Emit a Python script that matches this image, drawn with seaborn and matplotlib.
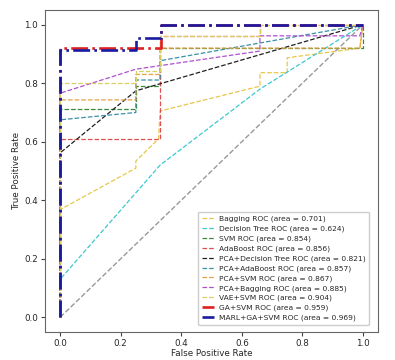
import numpy as np
import pandas as pd
import matplotlib
matplotlib.use("Agg")
import matplotlib.pyplot as plt
import seaborn as sns

# ROC curves
names = ["Bagging", "Decision Tree", "SVM", "AdaBoost", "PCA+Decision Tree",
         "PCA+AdaBoost", "PCA+SVM", "PCA+Bagging", "VAE+SVM", "GA+SVM", "MARL+GA+SVM"]
areas = [0.701, 0.624, 0.854, 0.856, 0.821, 0.857, 0.867, 0.885, 0.904, 0.959, 0.969]

fpr_bagging = [0, 0, 0.25, 0.25, 0.325, 0.33, 0.66, 0.66, 0.75, 0.75, 0.99, 1]
tpr_bagging = [0, 0.368, 0.51, 0.534, 0.61, 0.705, 0.79, 0.836, 0.836, 0.887, 0.92, 1]

fpr_dtree = [0, 0, 0.33, 0.66, 1]
tpr_dtree = [0, 0.13, 0.52, 0.78, 1]

fpr_svm = [0, 0, 0.25, 0.25, 0.33, 0.33, 1, 1]
tpr_svm = [0, 0.713, 0.713, 0.79, 0.79, 0.92, 0.92, 1]

fpr_ada = [0, 0, 0.33, 0.33, 0.66, 0.66, 1]
tpr_ada = [0, 0.61, 0.61, 0.962, 0.962, 1, 1]

fpr_pca_dt = [0, 0, 0.25, 1]
tpr_pca_dt = [0, 0.562, 0.774, 1]

fpr_pca_ada = [0, 0, 0.25, 0.25, 0.33, 0.33, 1]
tpr_pca_ada = [0, 0.675, 0.70, 0.811, 0.811, 0.877, 1]

fpr_pca_svm = [0, 0, 0.25, 0.25, 0.33, 0.33, 0.99, 1]
tpr_pca_svm = [0, 0.743, 0.743, 0.83, 0.83, 0.92, 0.92, 1]

fpr_pca_bag = [0, 0, 0.25, 0.66, 0.66, 0.99, 1]
tpr_pca_bag = [0, 0.766, 0.848, 0.91, 0.962, 0.962, 1]

fpr_vae_svm = [0, 0, 0.25, 0.25, 0.33, 0.33, 0.66, 0.66, 1]
tpr_vae_svm = [0, 0.80, 0.80, 0.842, 0.842, 0.962, 0.962, 1, 1]

fpr_ga_svm = [0, 0, 0.333, 0.333, 1]
tpr_ga_svm = [0, 0.922, 0.922, 1, 1]

fpr_marl = [0, 0, 0.25, 0.25, 0.333, 0.333, 1]
tpr_marl = [0, 0.913, 0.913, 0.955, 0.955, 1, 1]

fprs = [fpr_bagging, fpr_dtree, fpr_svm, fpr_ada, fpr_pca_dt, fpr_pca_ada,
        fpr_pca_svm, fpr_pca_bag, fpr_vae_svm, fpr_ga_svm, fpr_marl]
tprs = [tpr_bagging, tpr_dtree, tpr_svm, tpr_ada, tpr_pca_dt, tpr_pca_ada,
        tpr_pca_svm, tpr_pca_bag, tpr_vae_svm, tpr_ga_svm, tpr_marl]

colors = ["#e6c84a", "#3cc8d0", "#3a8a3a", "#e05050", "#202020", "#3a90a8",
          "#e8a040", "#b050d0", "#d8d060", "#e02020", "#1a1aa0"]

sns.set_style("white")
plt.rcParams["font.family"] = ["DejaVu Sans"]

fig = plt.figure(figsize=(3.95, 3.6), dpi=100)
ax = fig.add_axes([0.114, 0.078, 0.843, 0.894])

# chance line
sns.lineplot(x=[0, 1], y=[0, 1], ax=ax, color="#999999", linestyle="--",
             linewidth=1.0, sort=False, estimator=None)

for i in range(len(names)):
    label = f"{names[i]} ROC (area = {areas[i]:.3f})"
    if i >= 9:
        ls, lw = "-.", 1.9
    else:
        ls, lw = "--", 0.9
    sns.lineplot(x=fprs[i], y=tprs[i], ax=ax, color=colors[i], linestyle=ls,
                 linewidth=lw, label=label, sort=False, estimator=None)

ax.set_xlim(-0.05, 1.05)
ax.set_ylim(-0.05, 1.05)
ax.set_xticks([0, 0.2, 0.4, 0.6, 0.8, 1.0])
ax.set_yticks([0, 0.2, 0.4, 0.6, 0.8, 1.0])
ax.tick_params(labelsize=6.3, length=3, pad=2, color="#444444", left=True, bottom=True)
ax.set_xlabel("False Positive Rate", fontsize=6.3, labelpad=1)
ax.set_ylabel("True Positive Rate", fontsize=6.3, labelpad=2)
for s in ax.spines.values():
    s.set_color("#666666")
    s.set_linewidth(0.8)

ax.legend(loc="lower right", fontsize=5.4, frameon=True, handlelength=1.6,
          labelspacing=0.42, borderpad=0.5, handletextpad=0.7, framealpha=1,
          edgecolor="#cccccc", bbox_to_anchor=(0.985, 0.01))

fig.savefig("out.png", dpi=100)
